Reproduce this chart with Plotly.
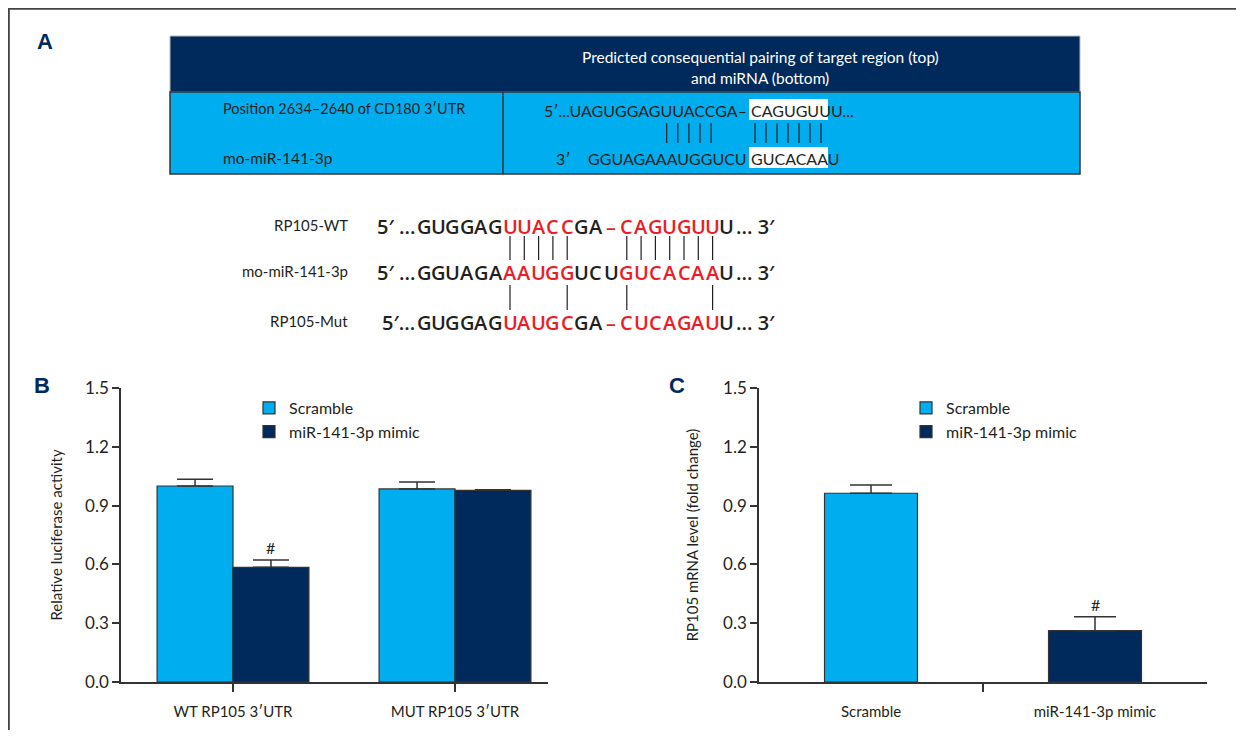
import plotly.graph_objects as go

# The page body keeps its default 8px margin, so the figure is sized to fill the
# remaining 1244x738 window exactly and screen positions are shifted by OFF.
SCREEN_W, SCREEN_H = 1244, 738
OFF = 8
FW, FH = SCREEN_W - 2 * OFF, SCREEN_H - 2 * OFF

# ---------------- data ----------------
b_categories = ["WT RP105 3′UTR", "MUT RP105 3′UTR"]
b_scramble = [1.00, 0.985]
b_scramble_err = [0.035, 0.035]
b_mimic = [0.585, 0.978]
b_mimic_err = [0.037, 0.003]

c_categories = ["Scramble", "miR-141-3p mimic"]
c_values = [0.963, 0.262]
c_errors = [0.042, 0.071]

series = ["Scramble", "miR-141-3p mimic"]
y_tickvals = [0.0, 0.3, 0.6, 0.9, 1.2, 1.5]
b_ytitle = "Relative luciferase activity"
c_ytitle = "RP105 mRNA level (fold change)"
sig_mark = "#"

table_header = ["Predicted consequential pairing of target region (top)", "and miRNA (bottom)"]
table_rows = ["Position 2634–2640 of CD180 3′UTR", "mo-miR-141-3p"]
table_target = ["5′...UAGUGGAGUUACCGA–", "CAGUGUUU..."]
table_mirna = ["3′", "GGUAGAAAUGGUCU", "GUCACAAU"]
table_pair_groups = [5, 7]

seq_labels = ["RP105-WT", "mo-miR-141-3p", "RP105-Mut"]
seq_prefix = ["5′ ...", "5′ ...", "5′..."]
seq_bases = ["GUGGAGUUACCGA–CAGUGUUU", "GGUAGAAAUGGUCUGUCACAAU", "GUGGAGUAUGCGA–CUCAGAUU"]
seq_suffix = "... 3′"
seq_red = [list(range(6, 11)) + list(range(13, 21)),
           list(range(6, 11)) + list(range(14, 21)),
           list(range(6, 11)) + list(range(13, 21))]
pairs_upper = [6, 7, 8, 9, 10, 14, 15, 16, 17, 18, 19, 20]
pairs_lower = [6, 10, 14, 20]
panel_letters = ["A", "B", "C"]

# ---------------- style ----------------
LIGHT = "#00aeef"
NAVY = "#002a5c"
INK = "#231f20"
AXIS = "#333333"
RED = "#ed1c24"
NARROW = "Lato, Liberation Sans, sans-serif"
SEQF = "Open Sans, Noto Sans, sans-serif"


def X(px):
    return (px - OFF) / FW


def Y(py):
    return 1 - (py - OFF) / FH


annotations = []
shapes = []


def txt(x, y, s, size=16, color=INK, anchor="left", family=NARROW, weight=None, angle=0):
    f = dict(size=size, color=color, family=family)
    if weight is not None:
        f["weight"] = weight
    annotations.append(dict(x=X(x), y=Y(y), xref="paper", yref="paper", text=s, showarrow=False,
                            xanchor=anchor, yanchor="middle", font=f, textangle=angle))


def rect(x0, y0, x1, y1, fill, line=None, lw=0):
    shapes.append(dict(type="rect", xref="paper", yref="paper", x0=X(x0), x1=X(x1), y0=Y(y1), y1=Y(y0),
                       fillcolor=fill, line=dict(color=line or fill, width=lw)))


def vline(x, y0, y1, color=INK, w=1.2):
    shapes.append(dict(type="line", xref="paper", yref="paper", x0=X(x), x1=X(x), y0=Y(y0), y1=Y(y1),
                       line=dict(color=color, width=w)))


def hline(x0, x1, y, color=AXIS, w=2):
    shapes.append(dict(type="line", xref="paper", yref="paper", x0=X(x0), x1=X(x1), y0=Y(y), y1=Y(y),
                       line=dict(color=color, width=w)))


# frame (top and left rules)
hline(8, SCREEN_W, 8.8, "#444444", 1.8)
vline(8.9, 8, SCREEN_H, "#444444", 1.8)

# ---------------- panel A : table ----------------
rect(170, 36, 1080, 92, NAVY, "#bbbbbb", 1)
rect(170, 92, 1080, 174, LIGHT, AXIS, 1.5)
vline(503, 92, 174, AXIS, 1.5)
rect(749, 99, 828, 120, "white")
rect(749, 147, 828, 168, "white")
for k, (start, step) in enumerate([(666.7, 11.1), (755.0, 11.0)]):
    for j in range(table_pair_groups[k]):
        vline(start + j * step, 123, 143, INK, 1.2)

txt(760, 57, table_header[0], 15.5, "white", "center")
txt(760, 78, table_header[1], 15.5, "white", "center")
txt(221, 108, table_rows[0], 14.5)
txt(221, 158, table_rows[1], 15.5)
txt(749, 111, table_target[0], 16, anchor="right")
txt(749, 111, table_target[1], 16, anchor="left")
txt(554, 158, table_mirna[0], 16)
txt(749, 158, table_mirna[1], 16, anchor="right")
txt(749, 158, table_mirna[2], 16, anchor="left")

# ---------------- panel A : sequences ----------------
STEP = 14.3
BX0 = 424.2


def base_x(i):
    extra = 2.4 if i >= 14 else (1.2 if i == 13 else 0.0)
    return BX0 + STEP * i + extra


row_y = [226, 272, 322]
for r, bases in enumerate(seq_bases):
    yy = row_y[r]
    txt(350, yy - 1, seq_labels[r], 15, INK, "right")
    txt(base_x(0) - 7.5, yy, seq_prefix[r], 20, INK, "right", SEQF, 600)
    for i, ch in enumerate(bases):
        col = RED if i in seq_red[r] else INK
        txt(base_x(i), yy, ch, 20, col, "center", SEQF, 600)
    txt(base_x(len(bases) - 1) + 7.5, yy, seq_suffix, 20, INK, "left", SEQF, 600)

for i in pairs_upper:
    vline(base_x(i), 236, 260, INK, 1.2)
for i in pairs_lower:
    vline(base_x(i), 285, 310, INK, 1.2)

# panel letters
txt(45, 42, panel_letters[0], 22, NAVY, "center", "Liberation Sans, Arial, sans-serif", 700)
txt(42, 385, panel_letters[1], 22, NAVY, "center", "Liberation Sans, Arial, sans-serif", 700)
txt(677, 385, panel_letters[2], 22, NAVY, "center", "Liberation Sans, Arial, sans-serif", 700)

# ---------------- panels B and C : bars ----------------
fig = go.Figure()
BW = 0.342
err_style = dict(type="data", symmetric=False, color=AXIS, thickness=1.5)
fig.add_trace(go.Bar(x=[0, 1], y=b_scramble, width=BW, offset=-BW, name=series[0],
                     marker=dict(color=LIGHT, line=dict(color=AXIS, width=1.2)),
                     error_y=dict(array=b_scramble_err, arrayminus=[0, 0], width=18, **err_style),
                     xaxis="x", yaxis="y", legend="legend"))
fig.add_trace(go.Bar(x=[0, 1], y=b_mimic, width=BW, offset=0, name=series[1],
                     marker=dict(color=NAVY, line=dict(color=AXIS, width=1.2)),
                     error_y=dict(array=b_mimic_err, arrayminus=[0, 0], width=18, **err_style),
                     xaxis="x", yaxis="y", legend="legend"))

CW = 0.415
fig.add_trace(go.Bar(x=[0], y=[c_values[0]], width=CW, offset=-CW / 2, name=series[0],
                     marker=dict(color=LIGHT, line=dict(color=AXIS, width=1.2)),
                     error_y=dict(array=[c_errors[0]], arrayminus=[0], width=21, **err_style),
                     xaxis="x2", yaxis="y2", legend="legend2"))
fig.add_trace(go.Bar(x=[1], y=[c_values[1]], width=CW, offset=-CW / 2, name=series[1],
                     marker=dict(color=NAVY, line=dict(color=AXIS, width=1.2)),
                     error_y=dict(array=[c_errors[1]], arrayminus=[0], width=21, **err_style),
                     xaxis="x2", yaxis="y2", legend="legend2"))

# significance marks
annotations.append(dict(x=0 + BW / 2, y=b_mimic[0] + b_mimic_err[0], xref="x", yref="y", text=sig_mark,
                        showarrow=False, yanchor="bottom", yshift=1, font=dict(size=16, color=INK, family=NARROW)))
annotations.append(dict(x=1, y=c_values[1] + c_errors[1], xref="x2", yref="y2", text=sig_mark,
                        showarrow=False, yanchor="bottom", yshift=1, font=dict(size=16, color=INK, family=NARROW)))

tickfont = dict(size=17, color=INK, family=NARROW)
xtickfont = dict(size=15, color=INK, family=NARROW)
titlefont = dict(size=15, color=INK, family=NARROW)
yax = dict(range=[0, 1.5], tickvals=y_tickvals, tickformat=".1f", ticks="outside", ticklen=7,
           tickwidth=1.5, tickcolor=AXIS, showline=True, linecolor=AXIS, linewidth=1.5, automargin=False,
           showgrid=False, zeroline=False, tickfont=tickfont, domain=[Y(682), Y(388)], fixedrange=True)
xax_common = dict(showline=True, linecolor=AXIS, linewidth=1.5, showgrid=False, zeroline=False,
                  automargin=False, tickfont=xtickfont, tickcolor=AXIS, tickwidth=1.5, fixedrange=True)
legend_common = dict(xanchor="left", yanchor="top", bgcolor="rgba(0,0,0,0)",
                     font=dict(size=16, color=INK, family=NARROW), tracegroupgap=0, traceorder="normal")

fig.update_layout(
    template="none",
    width=FW, height=FH, margin=dict(l=0, r=0, t=0, b=0, pad=0), autosize=False,
    paper_bgcolor="white", plot_bgcolor="white",
    barmode="group", showlegend=True,
    xaxis=dict(domain=[X(121), X(548)], range=[(121 - 233) / 222, (548 - 233) / 222],
               tickvals=[0, 1], ticktext=b_categories, ticks="outside", ticklen=8,
               ticklabelstandoff=7, anchor="y", **xax_common),
    yaxis=dict(anchor="x", title=dict(text=b_ytitle, font=titlefont, standoff=19), **yax),
    xaxis2=dict(domain=[X(759), X(1207)], range=[-0.5, 1.5], tickvals=[0, 1], ticktext=c_categories,
                ticks="", ticklabelstandoff=15, anchor="y2",
                minor=dict(tickvals=[0.5], ticks="outside", ticklen=8, tickcolor=AXIS, tickwidth=1.5,
                           showgrid=False),
                **xax_common),
    yaxis2=dict(anchor="x2", title=dict(text=c_ytitle, font=titlefont, standoff=21), **yax),
    legend=dict(x=X(249), y=Y(391), **legend_common),
    legend2=dict(x=X(906), y=Y(391), **legend_common),
    annotations=annotations, shapes=shapes,
)

fig.write_html("out.html", config={"displayModeBar": False})
